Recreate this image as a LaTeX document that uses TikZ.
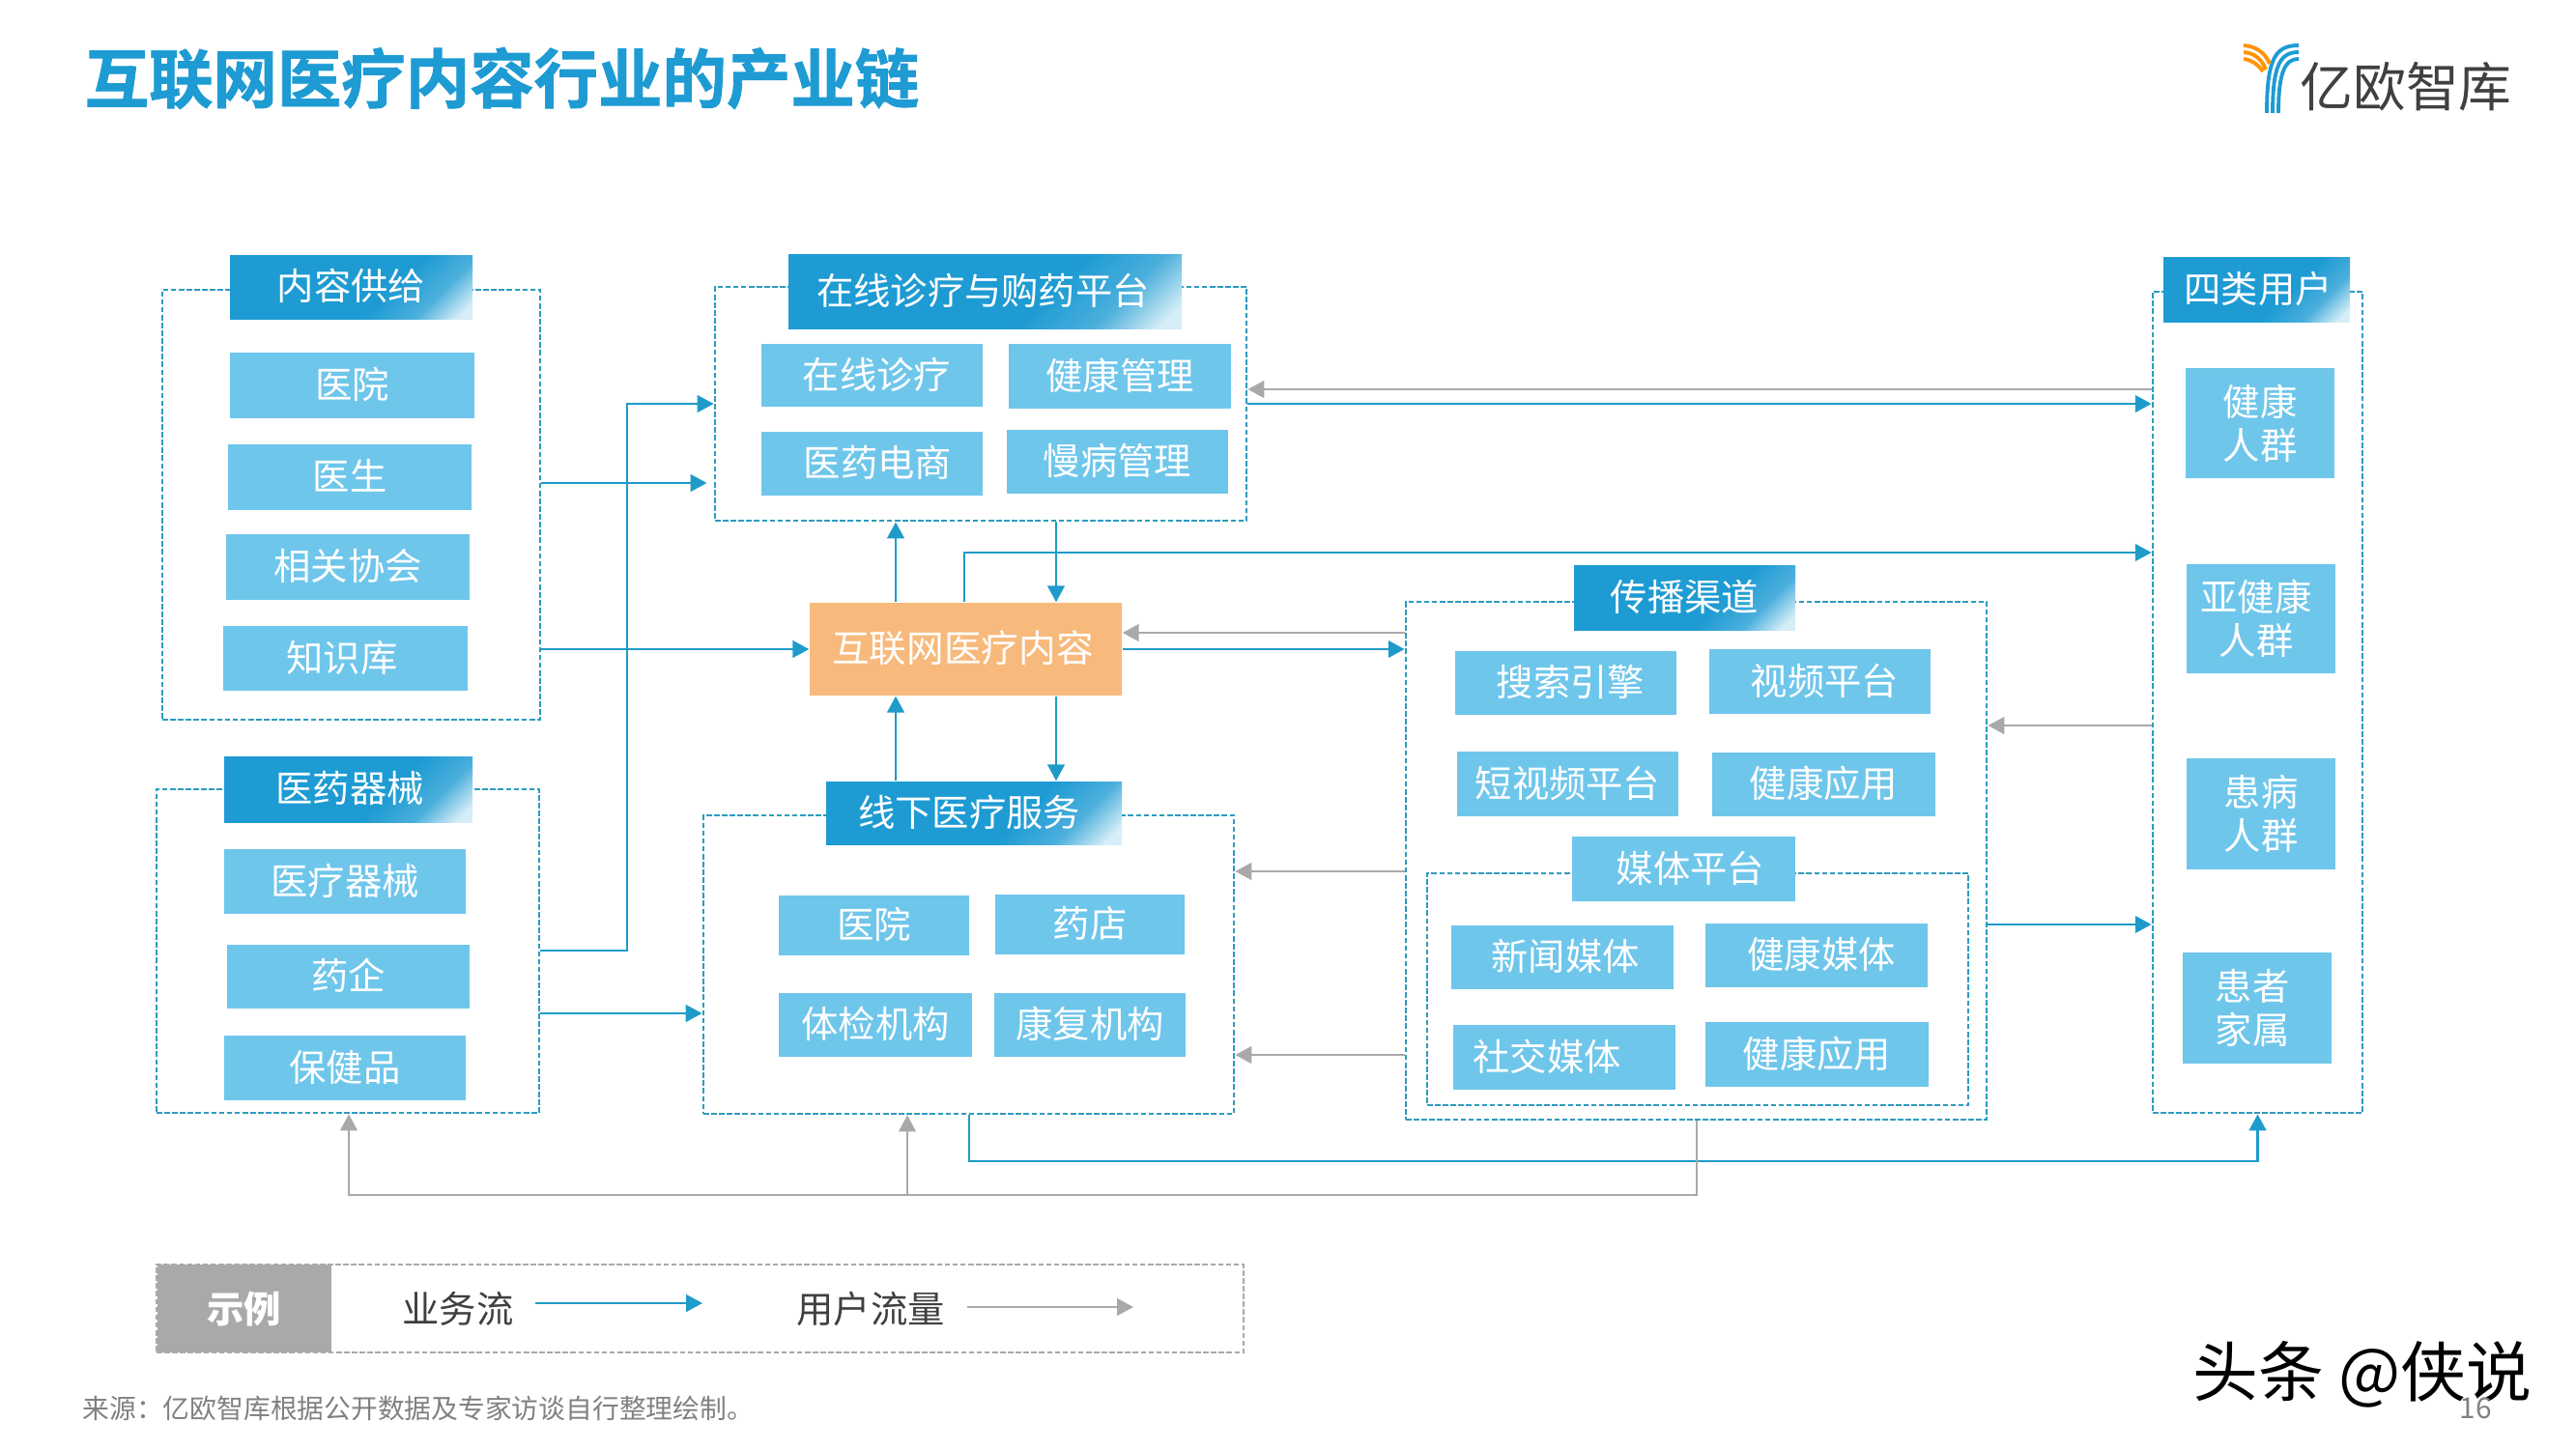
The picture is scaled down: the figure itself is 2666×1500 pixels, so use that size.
\documentclass[tikz,border=0pt]{standalone}
\usepackage{fontspec}
\setmainfont{Noto Sans CJK SC}
\newfontfamily\titlefont[UprightFont=* Bold,FakeBold=1.3]{Noto Sans CJK SC}
\usetikzlibrary{arrows.meta}
\definecolor{headblue}{HTML}{1E9BD3}
\definecolor{headlight}{HTML}{D6EEF7}
\definecolor{boxblue}{HTML}{6FC6EB}
\definecolor{dashblue}{HTML}{2E9BBF}
\definecolor{flowblue}{HTML}{1E9BC9}
\definecolor{flowgray}{HTML}{A9A9A9}
\definecolor{coreorange}{HTML}{F8B97C}
\definecolor{inkgray}{HTML}{404040}
\pgfdeclarehorizontalshading{headshade}{100bp}{color(0bp)=(headblue); color(60bp)=(headblue); color(72bp)=(headblue!80!white); color(82bp)=(headlight); color(100bp)=(headlight)}
\tikzset{
  framebox/.style={draw=dashblue,line width=0.8pt,dash pattern=on 1.6pt off 0.7pt,inner sep=0pt},
  headbox/.style={shading=headshade,shading angle=-45,text=white,inner sep=0pt,text height=9.8pt,text depth=1.9pt,font=\fontsize{10.9}{13}\selectfont},
  itembox/.style={fill=boxblue,text=white,inner sep=0pt,align=center,font=\fontsize{10.9}{12.8}\selectfont},
  oneline/.style={text height=9.8pt,text depth=1.9pt},
  bizflow/.style={draw=flowblue,line width=0.7pt,-{Triangle[length=4.8pt,width=5pt]}},
  userflow/.style={draw=flowgray,line width=0.7pt,-{Triangle[length=4.8pt,width=5pt]}},
  legendtext/.style={text=inkgray,inner sep=0pt,font=\fontsize{10.9}{13}\selectfont}
}
\begin{document}
\begin{tikzpicture}[x=0.1mm,y=-0.1mm]
\useasboundingbox (0,0) rectangle (2666,1500);
% title and logo
\node[anchor=west,inner sep=0pt,text=headblue,font=\fontsize{18.9}{20}\titlefont] (title) at (87,81) {互联网医疗内容行业的产业链};
\foreach \ya/\xa/\xb/\xc in {47/2355/2346/2346,54/2360/2352/2352,61/2365/2358/2358}
  \draw[headblue,line width=1.1pt] (2379,\ya) .. controls (\xa,\ya) and (\xb,\ya+13) .. (\xc,117);
\draw[orange!85!yellow,line width=1.1pt] (2322,47) .. controls (2336,48) and (2345,56) .. (2349,66);
\draw[orange!85!yellow,line width=1.1pt] (2322,54) .. controls (2334,55) and (2341,62) .. (2345,72);
\draw[orange!85!yellow,line width=1.1pt] (2322,61) .. controls (2331,62) and (2338,68) .. (2342,74);
\node[inner sep=0pt,text=inkgray,font=\fontsize{15.6}{16}\selectfont] (logotext) at (2490,90) {亿欧智库};
% dashed frames
\foreach \nm/\cx/\cy/\w/\h in {supply/363.5/522.5/391/445,online/1015/418/550/242,drug/360/984.5/396/335,offline/1002.5/998.5/549/309,channel/1755.5/891/601/536,media/1757/1024/560/240,users/2336.5/727/217/850}
  \node[framebox,minimum width=\w*0.1mm,minimum height=\h*0.1mm] (\nm) at (\cx,\cy) {};
% group titles
\foreach \nm/\cx/\cy/\w/\h/\txt in {supplyhead/363.5/297/251/66/内容供给,onlinehead/1019.5/301.5/407/77/在线诊疗与购药平台\hspace*{0.4mm},drughead/360.5/817/257/68/\hspace*{0.3mm}医药器械,offlinehead/1008/841.5/306/65/线下医疗服务\hspace*{1mm},channelhead/1743.5/618.5/229/67/传播渠道,usershead/2335.5/299.5/193/67/\hspace*{0.3mm}四类用户}
  \node[headbox,minimum width=\w*0.1mm,minimum height=\h*0.1mm] (\nm) at (\cx,\cy) {\txt};
% items
\foreach \nm/\cx/\cy/\w/\h/\txt in {hospital/364.5/399/253/68/医院,doctor/362/494/252/68/医生,assoc/360/587/252/68/相关协会,kbase/357.5/681.5/253/67/知识库\hspace*{0.7mm},
  clinic/902.5/388.5/229/65/\hspace*{1mm}在线诊疗,manage/1159/389.5/230/67/健康管理,ecom/902.5/480/229/66/\hspace*{1.2mm}医药电商,chronic/1156.5/478/229/66/慢病管理,
  device/357/912.5/250/67/医疗器械,pharma/360.5/1011/251/66/药企,supple/357/1105.5/250/67/保健品,
  hospoff/904.5/958/197/62/医院,store/1128/957/196/62/药店,exam/906/1061/200/66/体检机构,rehab/1128/1061/198/66/康复机构,
  search/1620.5/707/229/66/\hspace*{1mm}搜索引擎,video/1883.5/705.5/229/67/\hspace*{1mm}视频平台,shortv/1622.5/811.5/229/67/短视频平台,app/1887.5/812/231/66/健康应用,
  mediahead/1742.5/899.5/231/67/\hspace*{1.4mm}媒体平台,news/1617/991/230/66/\hspace*{0.6mm}新闻媒体,hmedia/1880/989/230/66/\hspace*{1mm}健康媒体,social/1619/1094.5/230/67/社交媒体\hspace*{3.6mm},apptwo/1880.5/1091.5/231/67/健康应用}
  \node[itembox,oneline,minimum width=\w*0.1mm,minimum height=\h*0.1mm] (\nm) at (\cx,\cy) {\txt};
\foreach \nm/\cx/\cy/\w/\h/\txt in {usrone/2339/438/154/114/{健康\\人群},usrtwo/2340/640.5/154/113/{亚健康\hspace*{1mm}\\人群\hspace*{1mm}},usrthree/2340/842.5/154/115/{患病\\人群},usrfour/2336/1043.5/154/115/{患者\hspace*{1mm}\\家属\hspace*{1mm}}}
  \node[itembox,minimum width=\w*0.1mm,minimum height=\h*0.1mm] (\nm) at (\cx,\cy) {\txt};
\node[fill=coreorange,text=white,inner sep=0pt,minimum width=323*0.1mm,minimum height=96*0.1mm,oneline,font=\fontsize{11}{13}\selectfont] (core) at (999.5,672) {互联网医疗内容\hspace*{0.6mm}};
% business flow
\draw[bizflow] (drug.east |- 0,984) -- (649,984) -- (649,418) -- (online.west |- 0,418);
\draw[bizflow,shorten >=2pt] (supply.east |- 0,500) -- (online.west |- 0,500);
\draw[bizflow] (supply.east |- 0,672) -- (core.west |- 0,672);
\draw[bizflow] (drug.east |- 0,1049) -- (offline.west |- 0,1049);
\draw[bizflow] (927,0 |- core.north) -- (927,0 |- online.south);
\draw[bizflow] (1093,0 |- online.south) -- (1093,0 |- core.north);
\draw[bizflow] (927,0 |- offlinehead.north) -- (927,0 |- core.south);
\draw[bizflow] (1093,0 |- core.south) -- (1093,0 |- offlinehead.north);
\draw[bizflow] (998,0 |- core.north) -- (998,572) -- (users.west |- 0,572);
\draw[bizflow] (online.east |- 0,418) -- (users.west |- 0,418);
\draw[bizflow] (core.east |- 0,672) -- (channel.west |- 0,672);
\draw[bizflow] (channel.east |- 0,957) -- (users.west |- 0,957);
\draw[bizflow] (1003,0 |- offline.south) -- (1003,1202) -- (2336.5,1202) -- (users.south);
% user flow
\draw[userflow] (users.west |- 0,403) -- (online.east |- 0,403);
\draw[userflow] (channel.west |- 0,655) -- (core.east |- 0,655);
\draw[userflow] (users.west |- 0,751) -- (channel.east |- 0,751);
\draw[userflow] (channel.west |- 0,902) -- (offline.east |- 0,902);
\draw[userflow] (channel.west |- 0,1092) -- (offline.east |- 0,1092);
\draw[userflow] (1756,0 |- channel.south) -- (1756,1237) -- (361,1237) -- (361,0 |- drug.south);
\draw[userflow] (939,1237) -- (939,0 |- offline.south);
% legend
\node[draw=flowgray,dash pattern=on 1.6pt off 0.7pt,line width=0.7pt,inner sep=0pt,minimum width=1125*0.1mm,minimum height=91*0.1mm] (legend) at (724.5,1354.5) {};
\node[fill=flowgray,text=white,inner sep=0pt,minimum width=180*0.1mm,minimum height=91*0.1mm,font=\fontsize{10.9}{13}\selectfont\bfseries] (legendtag) at (252.5,1354.5) {示例};
\node[legendtext] (biztext) at (474,1355) {业务流};
\node[legendtext] (usertext) at (901,1355) {用户流量};
\coordinate (bizstart) at (554,1349);
\coordinate (bizend) at (727,1349);
\coordinate (userstart) at (1001,1353);
\coordinate (userend) at (1173,1353);
\draw[bizflow] (bizstart) -- (bizend);
\draw[userflow] (userstart) -- (userend);
% source and page
\node[anchor=west,inner sep=0pt,text=gray,font=\fontsize{7.9}{9}\selectfont] (source) at (85,1458) {来源：亿欧智库根据公开数据及专家访谈自行整理绘制。};
\node[inner sep=0pt,text=black,font=\fontsize{19.3}{21}\selectfont] (mark) at (2445,1423) {头条 @侠说};
\node[inner sep=0pt,text=gray,font=\fontsize{8.5}{9}\selectfont] (page) at (2562,1458) {16};
\end{tikzpicture}
\end{document}
